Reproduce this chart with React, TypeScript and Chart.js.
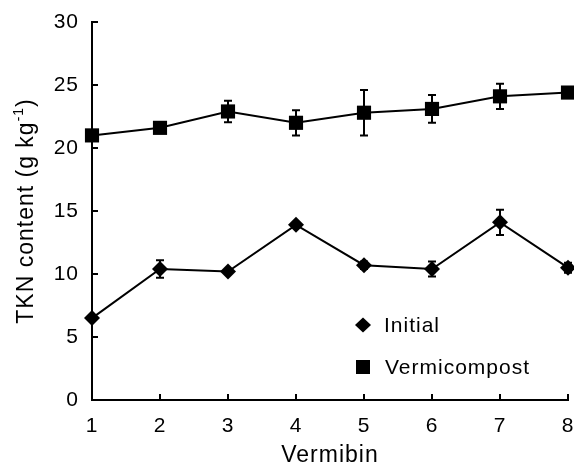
import React, { useEffect, useRef } from "react";
import { Chart, registerables } from "chart.js";

Chart.register(...registerables);

const categories = ["1", "2", "3", "4", "5", "6", "7", "8"];
const initialValues = [6.5, 10.4, 10.2, 13.9, 10.7, 10.4, 14.1, 10.5];
const initialErrors = [0.15, 0.7, 0.2, 0.2, 0.3, 0.6, 1.0, 0.4];
const vermiValues = [21.0, 21.6, 22.9, 22.0, 22.8, 23.1, 24.1, 24.4];
const vermiErrors = [0.2, 0.4, 0.85, 1.0, 1.8, 1.1, 1.0, 0.2];
const yTicks = [0, 5, 10, 15, 20, 25, 30];
const seriesNames = ["Initial", "Vermicompost"];
const xTitle = "Vermibin";
const yTitleMain = "TKN content (g kg";
const yTitleSup = "-1";
const yTitleEnd = ")";

const FONT = "Liberation Sans, Arial, sans-serif";

const customPlugin = {
  id: "custom",
  beforeDraw(chart: any) {
    try {
      chart.ctx.letterSpacing = "1px";
    } catch (e) {}
  },
  beforeDatasetsDraw(chart: any) {
    const ctx = chart.ctx;
    const x = chart.scales.x;
    const y = chart.scales.y;
    const sets = [
      { v: initialValues, e: initialErrors },
      { v: vermiValues, e: vermiErrors },
    ];
    ctx.save();
    ctx.strokeStyle = "#000";
    ctx.lineWidth = 2;
    sets.forEach((s) => {
      s.v.forEach((val, i) => {
        const px = x.getPixelForValue(i);
        const top = y.getPixelForValue(val + s.e[i]);
        const bot = y.getPixelForValue(val - s.e[i]);
        ctx.beginPath();
        ctx.moveTo(px, top);
        ctx.lineTo(px, bot);
        ctx.moveTo(px - 4, top);
        ctx.lineTo(px + 4, top);
        ctx.moveTo(px - 4, bot);
        ctx.lineTo(px + 4, bot);
        ctx.stroke();
      });
    });
    ctx.restore();
  },
  afterDraw(chart: any) {
    const ctx = chart.ctx;
    const x = chart.scales.x;
    const y = chart.scales.y;
    const area = chart.chartArea;
    ctx.save();
    ctx.strokeStyle = "#000";
    ctx.lineWidth = 2;
    categories.forEach((_, i) => {
      const px = x.getPixelForValue(i);
      ctx.beginPath();
      ctx.moveTo(px, area.bottom);
      ctx.lineTo(px, area.bottom - 6);
      ctx.stroke();
    });
    yTicks.forEach((t) => {
      const py = y.getPixelForValue(t);
      ctx.beginPath();
      ctx.moveTo(area.left, py);
      ctx.lineTo(area.left + 6, py);
      ctx.stroke();
    });
    ctx.fillStyle = "#000";
    ctx.font = `23px ${FONT}`;
    ctx.textAlign = "center";
    ctx.textBaseline = "alphabetic";
    ctx.fillText(xTitle, (area.left + area.right) / 2, 462);
    ctx.translate(33, (area.top + area.bottom) / 2);
    ctx.rotate(-Math.PI / 2);
    ctx.font = `23px ${FONT}`;
    const w1 = ctx.measureText(yTitleMain).width;
    ctx.font = `14px ${FONT}`;
    const w2 = ctx.measureText(yTitleSup).width;
    ctx.font = `23px ${FONT}`;
    const w3 = ctx.measureText(yTitleEnd).width;
    const total = w1 + w2 + w3;
    let cx = -total / 2;
    ctx.textAlign = "left";
    ctx.fillText(yTitleMain, cx, 0);
    cx += w1;
    ctx.font = `14px ${FONT}`;
    ctx.fillText(yTitleSup, cx, -10);
    cx += w2;
    ctx.font = `23px ${FONT}`;
    ctx.fillText(yTitleEnd, cx, 0);
    ctx.restore();

    ctx.save();
    ctx.fillStyle = "#000";
    const lx = 363;
    const ly1 = 325;
    const ly2 = 367;
    ctx.beginPath();
    ctx.moveTo(lx, ly1 - 7.5);
    ctx.lineTo(lx + 8, ly1);
    ctx.lineTo(lx, ly1 + 7.5);
    ctx.lineTo(lx - 8, ly1);
    ctx.closePath();
    ctx.fill();
    ctx.fillRect(lx - 7, ly2 - 7, 14, 14);
    ctx.font = `21px ${FONT}`;
    ctx.textAlign = "left";
    ctx.textBaseline = "middle";
    ctx.fillText(seriesNames[0], 384, ly1 + 1);
    ctx.fillText(seriesNames[1], 385, ly2 + 1);
    ctx.restore();
  },
};

export default function App() {
  const ref = useRef<HTMLCanvasElement>(null);
  useEffect(() => {
    document.body.style.margin = "0";
    const chart = new Chart(ref.current as HTMLCanvasElement, {
      type: "line",
      data: {
        labels: categories,
        datasets: [
          {
            label: seriesNames[0],
            data: initialValues,
            borderColor: "#000",
            backgroundColor: "#000",
            borderWidth: 2,
            pointStyle: "rectRot",
            pointRadius: 8,
            pointBorderWidth: 0,
            tension: 0,
            clip: false,
          },
          {
            label: seriesNames[1],
            data: vermiValues,
            borderColor: "#000",
            backgroundColor: "#000",
            borderWidth: 2,
            pointStyle: "rect",
            pointRadius: 10,
            pointBorderWidth: 0,
            tension: 0,
            clip: false,
          },
        ],
      },
      options: {
        responsive: false,
        animation: false,
        layout: { autoPadding: false, padding: { top: 22, right: 6, left: 0, bottom: 0 } },
        plugins: { legend: { display: false }, tooltip: { enabled: false } },
        scales: {
          x: {
            type: "category",
            offset: false,
            grid: { display: false, drawTicks: false },
            border: { display: true, color: "#000", width: 2 },
            ticks: { color: "#000", font: { family: FONT, size: 21 }, padding: 14, maxRotation: 0 },
            afterFit: (s: any) => {
              s.height = 65;
              s.paddingLeft = 0;
              s.paddingRight = 0;
            },
          },
          y: {
            min: 0,
            max: 30,
            grid: { display: false, drawTicks: false },
            border: { display: true, color: "#000", width: 2 },
            ticks: { stepSize: 5, color: "#000", font: { family: FONT, size: 21 }, padding: 13 },
            afterFit: (s: any) => {
              s.width = 92;
              s.paddingTop = 0;
              s.paddingBottom = 0;
            },
          },
        },
      },
      plugins: [customPlugin],
    });
    return () => chart.destroy();
  }, []);
  return (
    <div style={{ position: "fixed", left: 0, top: 0, width: 574, height: 465, background: "#fff" }}>
      <canvas ref={ref} width={574} height={465} style={{ display: "block" }} />
    </div>
  );
}
